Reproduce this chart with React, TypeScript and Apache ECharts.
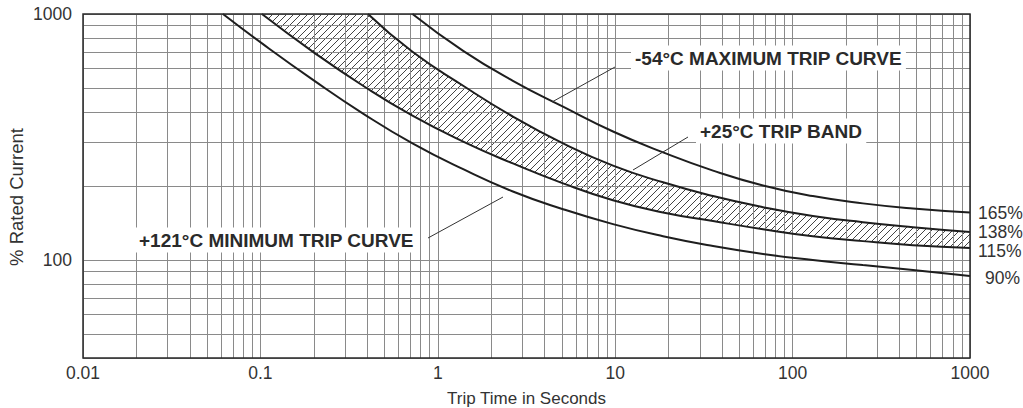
import React, { useEffect, useRef } from "react";
import * as echarts from "echarts";

// ---- axes ----
const xMin = 0.01;
const xMax = 1000;
const yMin = 40;
const yMax = 1000;
const xTickValues = [0.01, 0.1, 1, 10, 100, 1000];
const xTickLabels = ["0.01", "0.1", "1", "10", "100", "1000"];
const yTickValues = [100, 1000];
const yTickLabels = ["100", "1000"];
const xAxisTitle = "Trip Time in Seconds";
const yAxisTitle = "% Rated Current";

// log grid: decades x multipliers
const xDecades = [0.01, 0.1, 1, 10, 100];
const yDecades = [10, 100];
const logMultipliers = [1, 2, 3, 4, 5, 6, 7, 8, 9];

// ---- curves: [trip time (s), % rated current] ----
const maxTripCurve: [number, number][] = [
  [0.72, 1000], [1.39, 708], [2.65, 535], [5.08, 420], [9.72, 333],
  [18.6, 274], [35.6, 231], [68.1, 201], [130, 182], [249, 170],
  [477, 162], [1000, 156],
];
const bandUpperCurve: [number, number][] = [
  [0.404, 1000], [0.72, 702], [1.39, 511], [2.65, 383], [5.08, 298],
  [9.72, 242], [18.6, 207], [35.6, 182], [68.1, 164], [130, 151],
  [249, 142.5], [477, 136], [1000, 130],
];
const bandLowerCurve: [number, number][] = [
  [0.102, 1000], [0.198, 702], [0.379, 511], [0.72, 386], [1.39, 303],
  [2.65, 247], [5.08, 205], [9.72, 175], [18.6, 156], [35.6, 144],
  [68.1, 133.5], [130, 125], [249, 119.4], [477, 115], [1000, 112],
];
const minTripCurve: [number, number][] = [
  [0.0615, 1000], [0.103, 756], [0.198, 540], [0.379, 394], [0.72, 298],
  [1.39, 234], [2.65, 190], [5.08, 161], [9.72, 140], [18.6, 125],
  [35.6, 114], [68.1, 105.8], [130, 100], [249, 95.4], [477, 91.1],
  [1000, 86.1],
];
const curveEndLabels = ["165%", "138%", "115%", "90%"];

// ---- annotations ----
const annotationTexts = [
  "-54°C MAXIMUM TRIP CURVE",
  "+25°C TRIP BAND",
  "+121°C MINIMUM TRIP CURVE",
];

const FONT = "'Liberation Sans', Arial, Helvetica, sans-serif";
const INK = "#1e1e1e";

function makeHatch(): HTMLCanvasElement {
  const s = 7;
  const c = document.createElement("canvas");
  c.width = s;
  c.height = s;
  const ctx = c.getContext("2d")!;
  ctx.strokeStyle = "#444";
  ctx.lineWidth = 1;
  ctx.beginPath();
  ctx.moveTo(-1, s + 1);
  ctx.lineTo(s + 1, -1);
  ctx.moveTo(-1, 1);
  ctx.lineTo(1, -1);
  ctx.moveTo(s - 1, s + 1);
  ctx.lineTo(s + 1, s - 1);
  ctx.stroke();
  return c;
}

function labelFor(values: number[], labels: string[]) {
  return (v: number) => {
    const i = values.findIndex((t) => Math.abs(Math.log10(t) - Math.log10(v)) < 1e-6);
    return i >= 0 ? labels[i] : "";
  };
}

export default function App() {
  const ref = useRef<HTMLDivElement>(null);

  useEffect(() => {
    if (!ref.current) return;
    const chart = echarts.init(ref.current, undefined, { renderer: "svg" });

    const xGrid = xDecades
      .flatMap((d) => logMultipliers.map((k) => +(d * k).toPrecision(6)))
      .concat([xMax]);
    const yGrid = yDecades
      .flatMap((d) => logMultipliers.map((k) => +(d * k).toPrecision(6)))
      .filter((v) => v >= yMin && v <= yMax)
      .concat([yMax]);

    const curveLine = (data: [number, number][], label: string, offset: number[]) => ({
      type: "line",
      data,
      smooth: true,
      showSymbol: false,
      symbol: "none",
      silent: true,
      z: 4,
      lineStyle: { color: INK, width: 2 },
      endLabel: {
        show: true,
        formatter: () => label,
        distance: 8,
        offset,
        color: "#333",
        fontSize: 17.5,
        fontFamily: FONT,
      },
    });

    const annText = (text: string, x: number, y: number) => ({
      type: "text",
      x,
      y,
      z: 100,
      style: {
        text,
        font: `bold 19px ${FONT}`,
        fill: "#2a2a2a",
        verticalAlign: "middle",
        align: "left",
        backgroundColor: "#fff",
        padding: [3, 4, 3, 4],
      },
    });
    const leader = (x1: number, y1: number, x2: number, y2: number) => ({
      type: "line",
      z: 100,
      shape: { x1, y1, x2, y2 },
      style: { stroke: "#333", lineWidth: 1 },
    });

    chart.setOption({
      animation: false,
      backgroundColor: "#fff",
      grid: {
        left: 83,
        right: 53,
        top: 14,
        bottom: 50,
        show: true,
        borderColor: "#2a2a2a",
        borderWidth: 1.5,
        backgroundColor: "transparent",
        z: 10,
        outerBoundsMode: "none",
        containLabel: false,
      },
      xAxis: {
        type: "log",
        logBase: 10,
        min: xMin,
        max: xMax,
        name: xAxisTitle,
        nameLocation: "middle",
        nameGap: 32,
        nameTextStyle: { fontSize: 17, color: "#333", fontFamily: FONT },
        axisLine: { show: false },
        axisTick: { show: false },
        splitLine: { show: false },
        axisLabel: {
          formatter: labelFor(xTickValues, xTickLabels),
          fontSize: 17.5,
          color: "#333",
          fontFamily: FONT,
          margin: 6,
          showMinLabel: true,
          showMaxLabel: true,
        },
      },
      yAxis: {
        type: "log",
        logBase: 10,
        min: yMin,
        max: yMax,
        axisLine: { show: false },
        axisTick: { show: false },
        splitLine: { show: false },
        axisLabel: {
          formatter: labelFor(yTickValues, yTickLabels),
          fontSize: 17.5,
          color: "#333",
          fontFamily: FONT,
          margin: 11,
        },
      },
      series: [
        // hatch: everything above the lower band edge
        {
          type: "line",
          data: bandLowerCurve,
          smooth: true,
          showSymbol: false,
          symbol: "none",
          silent: true,
          z: 1,
          lineStyle: { opacity: 0, width: 0 },
          areaStyle: {
            origin: yMax,
            opacity: 1,
            color: { image: makeHatch(), repeat: "repeat" },
          },
        },
        // white mask: everything above the upper band edge
        {
          type: "line",
          data: bandUpperCurve,
          smooth: true,
          showSymbol: false,
          symbol: "none",
          silent: true,
          z: 2,
          lineStyle: { opacity: 0, width: 0 },
          areaStyle: { origin: yMax, opacity: 1, color: "#fff" },
        },
        // log grid lines
        {
          type: "line",
          data: [],
          silent: true,
          z: 3,
          markLine: {
            silent: true,
            z: 3,
            symbol: ["none", "none"],
            label: { show: false },
            emphasis: { disabled: true },
            lineStyle: { color: "#8a8a8a", width: 1, type: "solid" },
            data: [
              ...xGrid.map((v) => ({ xAxis: v })),
              ...yGrid.map((v) => ({ yAxis: v })),
            ],
          },
        },
        curveLine(maxTripCurve, curveEndLabels[0], [0, 0]),
        curveLine(bandUpperCurve, curveEndLabels[1], [0, 0]),
        curveLine(bandLowerCurve, curveEndLabels[2], [0, 3]),
        curveLine(minTripCurve, curveEndLabels[3], [7, 2]),
      ],
      graphic: [
        {
          type: "text",
          x: 16,
          y: 197,
          rotation: Math.PI / 2,
          style: {
            text: yAxisTitle,
            font: `18.5px ${FONT}`,
            fill: "#333",
            align: "center",
            verticalAlign: "middle",
          },
        },
        leader(552, 102, 615, 67),
        annText(annotationTexts[0], 631, 58),
        leader(633, 170, 688, 137),
        annText(annotationTexts[1], 696, 131),
        leader(428, 238, 503, 197),
        annText(annotationTexts[2], 135, 240),
      ],
    });

    return () => chart.dispose();
  }, []);

  return (
    <div
      ref={ref}
      style={{ position: "fixed", left: 0, top: 0, width: 1023, height: 408 }}
    />
  );
}
